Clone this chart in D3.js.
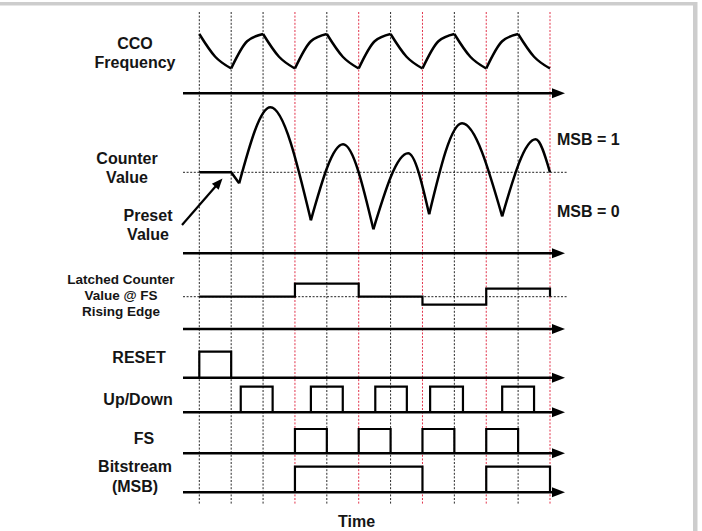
<!DOCTYPE html>
<html>
<head>
<meta charset="utf-8">
<script src="https://cdn.jsdelivr.net/npm/d3@7"></script>
<style>
  html, body { margin: 0; padding: 0; background: #fff; }
  svg { display: block; }
  text { font-family: "Liberation Sans", Arial, sans-serif; font-weight: bold; fill: #151515; }
</style>
</head>
<body>
<div id="chart"></div>
<script>
// ---- données (temps en périodes d'horloge) ----
const gridTimes = [0, 1, 2, 3, 4, 5, 6, 7, 8, 9, 10, 11];
const gridKinds = ["clk", "clk", "clk", "fs", "clk", "fs", "clk", "fs", "clk", "fs", "clk", "fs"];

// fréquence CCO normalisée (1 = haut, 0 = bas) à chaque trait de grille
const ccoTimes = [0, 1, 2, 3, 4, 5, 6, 7, 8, 9, 10, 11];
const ccoLevels = [1, 0, 1, 0, 1, 0, 1, 0, 1, 0, 1, 0];
const ccoFallMid = 0.34;   // valeur à mi-période pendant la décharge
const ccoRiseMid = 0.79;   // valeur à mi-période pendant la charge

// valeur du compteur (0 = valeur de preset)
const counterTimes  = [0, 1, 1.25, 2.23, 3.5, 4.51, 5.46, 6.55, 7.21, 8.24, 9.5, 10.55, 11];
const counterValues = [0, 0, -11, 65, -48, 28, -57, 19, -42, 49, -44, 33, 0];

// valeur latchée sur front montant de FS
const latchedTimes  = [0, 3, 5, 7, 9, 11];
const latchedValues = [0, 13, 0, -8, 8, 0];

// impulsions logiques [début, fin]
const resetPulses = [[0, 1]];
const updownPulses = [[1.3, 2.3], [3.5, 4.5], [5.52, 6.51], [7.24, 8.27], [9.5, 10.5]];
const fsPulses = [[3, 4], [5, 6], [7, 8], [9, 10]];
const bitPulses = [[3, 7], [9, 11]];

const rowLabels = {
  cco: ["CCO", "Frequency"],
  counter: ["Counter", "Value"],
  preset: ["Preset", "Value"],
  latched: ["Latched Counter", "Value @ FS", "Rising Edge"],
  reset: ["RESET"],
  updown: ["Up/Down"],
  fs: ["FS"],
  bit: ["Bitstream", "(MSB)"]
};
const msbLabels = ["MSB = 1", "MSB = 0"];
const timeLabel = "Time";

// ---- mise en page ----
const width = 702;
const height = 531;
const axisX0 = 183;
const axisTip = 565;

const svg = d3.select("#chart")
  .append("svg")
    .attr("width", width)
    .attr("height", height);

// cadre gris
svg.append("rect").attr("x", 0).attr("y", 2).attr("width", 697).attr("height", 3.5).attr("fill", "#cdcdcd");
svg.append("rect").attr("x", 693).attr("y", 2).attr("width", 4.5).attr("height", height).attr("fill", "#cdcdcd");

const x = d3.scaleLinear().domain([0, 11]).range([199.3, 550]);

// 1. grille verticale
svg.selectAll(".grid")
  .data(gridTimes)
  .enter()
  .append("line")
    .attr("x1", d => x(d)).attr("x2", d => x(d))
    .attr("y1", 12).attr("y2", 505)
    .attr("stroke", (d, i) => gridKinds[i] === "fs" ? "#e2334b" : "#2a2a2a")
    .attr("stroke-width", 1)
    .attr("stroke-dasharray", "2,1.6");

// 2. lignes de référence pointillées
function refLine(y) {
  svg.append("line")
    .attr("x1", axisX0).attr("x2", 567)
    .attr("y1", y).attr("y2", y)
    .attr("stroke", "#222")
    .attr("stroke-width", 1)
    .attr("stroke-dasharray", "2,1.6");
}

// 3. axes avec flèche
function axis(y) {
  svg.append("line")
    .attr("x1", axisX0).attr("x2", axisTip - 8)
    .attr("y1", y).attr("y2", y)
    .attr("stroke", "#000")
    .attr("stroke-width", 2.5);
  svg.append("polygon")
    .attr("points", [[axisTip - 13, y - 5], [axisTip, y], [axisTip - 13, y + 5]].map(d => d.join(",")).join(" "))
    .attr("fill", "#000");
}

function label(lines, cx, baseline, size, lh) {
  lines.forEach((t, i) => {
    svg.append("text")
      .attr("x", cx).attr("y", baseline + i * lh)
      .attr("text-anchor", "middle")
      .attr("font-size", size)
      .text(t);
  });
}

const signal = g => g.attr("fill", "none").attr("stroke", "#000").attr("stroke-width", 2.5)
  .attr("stroke-linejoin", "round");

// --- CCO ---
const yCco = d3.scaleLinear().domain([0, 1]).range([68.5, 34]);
axis(93.3);
label(rowLabels.cco, 135, 49, 16, 19);

const ccoLine = d3.line().x(d => x(d[0])).y(d => yCco(d[1])).curve(d3.curveMonotoneX);
for (let i = 0; i < ccoTimes.length - 1; i++) {
  const t0 = ccoTimes[i], t1 = ccoTimes[i + 1];
  const mid = ccoLevels[i] > ccoLevels[i + 1] ? ccoFallMid : ccoRiseMid;
  svg.append("path")
    .attr("d", ccoLine([[t0, ccoLevels[i]], [(t0 + t1) / 2, mid], [t1, ccoLevels[i + 1]]]))
    .call(signal);
}

// --- Counter ---
const yCnt = d3.scaleLinear().domain([-70, 70]).range([172.3 + 70, 172.3 - 70]);
refLine(172.3);
axis(253.3);
label(rowLabels.counter, 127, 163.5, 16, 19.5);
label(rowLabels.preset, 148, 220.5, 16, 19.5);

const cntLinear = d3.line().x(d => x(d[0])).y(d => yCnt(d[1]));
const cntArch = d3.line().x(d => x(d[0])).y(d => yCnt(d[1])).curve(d3.curveMonotoneX);
const cntPts = counterTimes.map((t, i) => [t, counterValues[i]]);
svg.append("path").attr("d", cntLinear(cntPts.slice(0, 3))).call(signal);
for (let i = 2; i + 2 < cntPts.length; i += 2) {
  svg.append("path").attr("d", cntArch(cntPts.slice(i, i + 3))).call(signal);
}

svg.append("text").attr("x", 557).attr("y", 145).attr("font-size", 16).text(msbLabels[0]);
svg.append("text").attr("x", 557).attr("y", 216.5).attr("font-size", 16).text(msbLabels[1]);

// flèche "Preset Value"
{
  const p0 = [182, 225], p1 = [222.5, 178.5];
  const dx = p1[0] - p0[0], dy = p1[1] - p0[1];
  const len = Math.hypot(dx, dy), ux = dx / len, uy = dy / len;
  const hl = 11, hw = 4.5;
  const bx = p1[0] - ux * hl, by = p1[1] - uy * hl;
  svg.append("line").attr("x1", p0[0]).attr("y1", p0[1]).attr("x2", bx + ux * 2).attr("y2", by + uy * 2)
    .attr("stroke", "#000").attr("stroke-width", 2.2);
  svg.append("polygon")
    .attr("points", [[p1[0], p1[1]], [bx - uy * hw, by + ux * hw], [bx + uy * hw, by - ux * hw]].map(d => d.join(",")).join(" "))
    .attr("fill", "#000");
}

// --- Latched ---
const yLat = d3.scaleLinear().domain([-20, 20]).range([296.7 + 20, 296.7 - 20]);
refLine(296.7);
axis(329);
label(rowLabels.latched, 121, 284.3, 13.5, 15.6);
svg.append("path")
  .attr("d", d3.line().x(d => x(d[0])).y(d => yLat(d[1])).curve(d3.curveStepAfter)(latchedTimes.map((t, i) => [t, latchedValues[i]])))
  .call(signal).attr("stroke-width", 2.2).attr("stroke-linejoin", "miter");

// --- impulsions ---
function pulses(data, base, h) {
  axis(base);
  svg.selectAll(null)
    .data(data)
    .enter()
    .append("path")
      .attr("d", d => `M${x(d[0])},${base}V${base - h}H${x(d[1])}V${base}`)
      .attr("fill", "none").attr("stroke", "#000").attr("stroke-width", 2.2);
}

pulses(resetPulses, 377.7, 26);
label(rowLabels.reset, 139, 363.3, 16, 19);
pulses(updownPulses, 412.3, 25.6);
label(rowLabels.updown, 138, 405, 16, 19);
pulses(fsPulses, 453.3, 24.3);
label(rowLabels.fs, 144, 444, 16, 19);
pulses(bitPulses, 492.3, 25.6);
label(rowLabels.bit, 135, 471.7, 16, 20);

label([timeLabel], 356.5, 526.5, 16, 19);
</script>
</body>
</html>
